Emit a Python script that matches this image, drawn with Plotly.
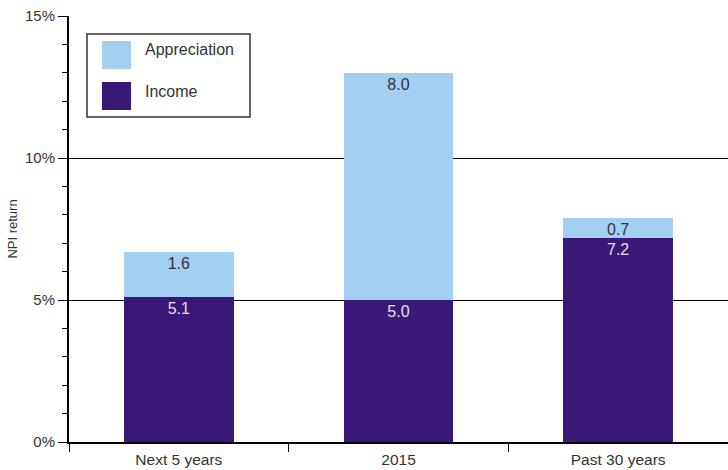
import plotly.graph_objects as go

# NPI return components by period
periods = ["Next 5 years", "2015", "Past 30 years"]
income = [5.1, 5.0, 7.2]
appreciation = [1.6, 8.0, 0.7]

income_color = "#3a1877"
appr_color = "#a3cff1"
font_family = "Liberation Sans, Arial, sans-serif"

fig = go.Figure()
fig.add_trace(go.Bar(
    x=periods, y=income, name="Income",
    marker=dict(color=income_color, line=dict(width=0)),
    text=[f"{v:.1f}" for v in income],
    textposition="inside", insidetextanchor="end", constraintext="none",
    textfont=dict(color="#e4e0f0", size=16, family=font_family),
))
fig.add_trace(go.Bar(
    x=periods, y=appreciation, name="Appreciation",
    marker=dict(color=appr_color, line=dict(width=0)),
    text=[f"{v:.1f}" for v in appreciation],
    textposition="inside", insidetextanchor="end", constraintext="none",
    textfont=dict(color="#333333", size=16, family=font_family),
))

# legend drawn by hand to get the large square swatches
shapes = [
    dict(type="rect", xref="paper", yref="paper", x0=0.0273, x1=0.2747, y0=0.7629, y1=0.9577,
         line=dict(color="#333333", width=1.5), fillcolor="white", layer="above"),
    dict(type="rect", xref="paper", yref="paper", x0=0.0501, x1=0.0941, y0=0.8756, y1=0.9413,
         line=dict(width=0), fillcolor=appr_color, layer="above"),
    dict(type="rect", xref="paper", yref="paper", x0=0.0501, x1=0.0941, y0=0.7793, y1=0.8451,
         line=dict(width=0), fillcolor=income_color, layer="above"),
]
annotations = [
    dict(text="Appreciation", xref="paper", yref="paper", x=0.1123, y=0.9202, xanchor="left",
         yanchor="middle", showarrow=False, font=dict(size=16, color="#333333", family=font_family)),
    dict(text="Income", xref="paper", yref="paper", x=0.1123, y=0.8216, xanchor="left",
         yanchor="middle", showarrow=False, font=dict(size=16, color="#333333", family=font_family)),
]

fig.update_layout(
    width=728, height=470,
    margin=dict(l=69, r=0, t=16, b=28),
    barmode="stack", bargap=0.5,
    plot_bgcolor="white", paper_bgcolor="white",
    showlegend=False,
    font=dict(family=font_family, size=14, color="#333333"),
    shapes=shapes, annotations=annotations,
    xaxis=dict(
        showline=True, linecolor="black", linewidth=2,
        ticks="outside", tickson="boundaries", ticklen=8, tickcolor="black", tickwidth=1,
        ticklabelstandoff=2,
        tickfont=dict(size=15.5, color="#333333"),
        showgrid=False,
    ),
    yaxis=dict(
        range=[0, 15], dtick=5, ticksuffix="%",
        showline=True, linecolor="black", linewidth=2,
        ticks="outside", ticklen=9, tickcolor="black", tickwidth=1,
        minor=dict(dtick=1, ticks="outside", ticklen=5, tickcolor="black", showgrid=False),
        showgrid=True, gridcolor="black", gridwidth=1, zeroline=False,
        tickfont=dict(size=15, color="#333333"),
        title=dict(text="NPI return", font=dict(size=13, color="#333333"), standoff=4),
    ),
)

fig.write_html("out.html", config={"displayModeBar": False},
               post_script="document.body.style.margin='0';")
